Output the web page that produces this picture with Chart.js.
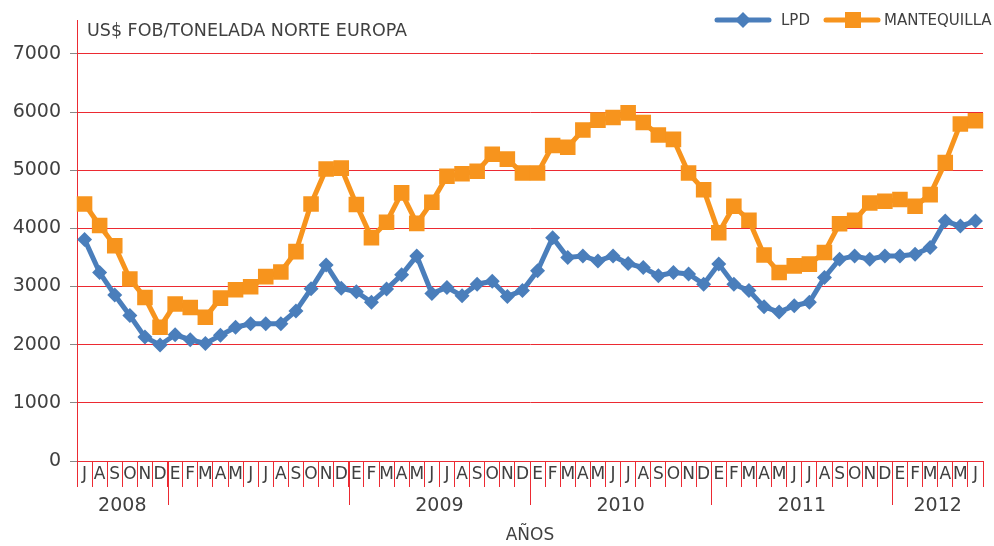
<!DOCTYPE html>
<html>
<head>
<meta charset="utf-8">
<script src="https://cdn.jsdelivr.net/npm/chart.js@4"></script>
<style>
html,body{margin:0;padding:0;background:#fff;}
#wrap{position:relative;width:994px;height:546px;}
</style>
</head>
<body>
<div id="wrap"><canvas id="c" width="994" height="546"></canvas></div>
<script>
const months = ['J','A','S','O','N','D',
  'E','F','M','A','M','J','J','A','S','O','N','D',
  'E','F','M','A','M','J','J','A','S','O','N','D',
  'E','F','M','A','M','J','J','A','S','O','N','D',
  'E','F','M','A','M','J','J','A','S','O','N','D',
  'E','F','M','A','M','J'];
const yearLabels = ['2008','','2009','2010','2011','2012'];
const yearStarts = [0,6,18,30,42,54];
const lpd = [3810,3240,2855,2500,2130,1995,2170,2085,2020,2160,2300,2360,2360,2360,2580,2960,
  3370,2970,2910,2730,2955,3200,3525,2880,2985,2840,3040,3090,2830,2930,3270,3840,
  3500,3525,3440,3525,3395,3325,3185,3240,3215,3040,3385,3040,2930,2650,2560,2670,
  2730,3155,3470,3525,3470,3525,3525,3555,3670,4125,4040,4125];
const mantequilla = [4420,4050,3700,3130,2810,2300,2700,2640,2470,2800,2945,2995,3170,3250,3600,4420,
  5020,5035,4410,3840,4105,4610,4085,4450,4895,4940,4980,5275,5190,4950,4950,5425,
  5395,5690,5860,5905,5985,5820,5605,5530,4950,4665,3925,4380,4140,3540,3240,3355,
  3385,3585,4080,4140,4435,4465,4495,4380,4580,5130,5795,5850];
const yTicks = [0,1000,2000,3000,4000,5000,6000,7000];
const seriesNames = ['LPD','MANTEQUILLA'];
const titleText = 'US$ FOB/TONELADA NORTE EUROPA';
const xTitle = 'AÑOS';

const BLUE = '#4A7EBB', ORANGE = '#F7941D', RED = '#EC2A32', TXT = '#404040';
const FONT = '"DejaVu Sans", sans-serif';

const extras = {
  id: 'extras',
  afterDraw(chart) {
    const ctx = chart.ctx, xs = chart.scales.x, area = chart.chartArea;
    const step = xs.getPixelForValue(1) - xs.getPixelForValue(0);
    ctx.save();
    ctx.strokeStyle = RED; ctx.lineWidth = 1;
    for (let i = 1; i < yearStarts.length; i++) {
      const px = Math.round(xs.getPixelForValue(yearStarts[i]) - step/2) + 0.5;
      ctx.beginPath(); ctx.moveTo(px, area.bottom); ctx.lineTo(px, 505); ctx.stroke();
    }
    ctx.fillStyle = TXT; ctx.font = '19px ' + FONT; ctx.textAlign = 'center'; ctx.textBaseline = 'middle';
    for (let i = 0; i < yearStarts.length; i++) {
      const s = yearStarts[i], e = (i + 1 < yearStarts.length ? yearStarts[i+1] : months.length) - 1;
      const cx = (xs.getPixelForValue(s) + xs.getPixelForValue(e)) / 2;
      if (yearLabels[i]) ctx.fillText(yearLabels[i], cx, 506);
    }
    ctx.textAlign = 'left'; ctx.font = '17.5px ' + FONT;
    ctx.fillText(titleText, 87, 31);
    ctx.font = '15px ' + FONT;
    ctx.lineCap = 'round'; ctx.lineWidth = 5;
    ctx.strokeStyle = BLUE; ctx.beginPath(); ctx.moveTo(717, 20); ctx.lineTo(769, 20); ctx.stroke();
    ctx.fillStyle = BLUE; ctx.beginPath();
    ctx.moveTo(743, 12); ctx.lineTo(751, 20); ctx.lineTo(743, 28); ctx.lineTo(735, 20); ctx.closePath(); ctx.fill();
    ctx.fillStyle = TXT; ctx.fillText(seriesNames[0], 781, 21);
    ctx.strokeStyle = ORANGE; ctx.beginPath(); ctx.moveTo(826, 20); ctx.lineTo(878, 20); ctx.stroke();
    ctx.fillStyle = ORANGE; ctx.fillRect(845, 12, 16, 16);
    ctx.fillStyle = TXT; ctx.fillText(seriesNames[1], 884, 21);
    ctx.restore();
  }
};

new Chart(document.getElementById('c'), {
  type: 'line',
  data: {
    labels: months,
    datasets: [
      { label: seriesNames[0], data: lpd, borderColor: BLUE, backgroundColor: BLUE, borderWidth: 5,
        pointStyle: 'rectRot', pointRadius: 7.5, pointBorderWidth: 0, tension: 0 },
      { label: seriesNames[1], data: mantequilla, borderColor: ORANGE, backgroundColor: ORANGE, borderWidth: 5,
        pointStyle: 'rect', pointRadius: 11, pointBorderWidth: 0, tension: 0 }
    ]
  },
  options: {
    responsive: false, animation: false,
    layout: { padding: { top: 18, right: 1, left: 0, bottom: 0 } },
    plugins: { legend: { display: false }, tooltip: { enabled: false } },
    scales: {
      x: {
        type: 'category', offset: true,
        grid: { offset: true, drawOnChartArea: false, drawTicks: true, tickLength: 26, color: RED, lineWidth: 1 },
        border: { color: RED, width: 1 },
        ticks: { autoSkip: false, maxRotation: 0, minRotation: 0, padding: -23, color: TXT,
          font: { family: FONT, size: 17 } },
        title: { display: true, text: xTitle, color: TXT, font: { family: FONT, size: 17 }, padding: { top: 0, bottom: 0 } },
        afterFit(s) { s.height = 85; }
      },
      y: {
        min: 0, max: 7575, bounds: 'data',
        afterBuildTicks(s) { s.ticks = yTicks.map(v => ({ value: v })); },
        grid: { color: RED, lineWidth: 1, tickLength: 7, tickColor: '#888888' },
        border: { color: RED, width: 1 },
        ticks: { padding: 9, color: TXT, font: { family: FONT, size: 19 }, callback: v => String(v) },
        afterFit(s) { s.width = 77; }
      }
    }
  },
  plugins: [extras]
});
</script>
</body>
</html>
